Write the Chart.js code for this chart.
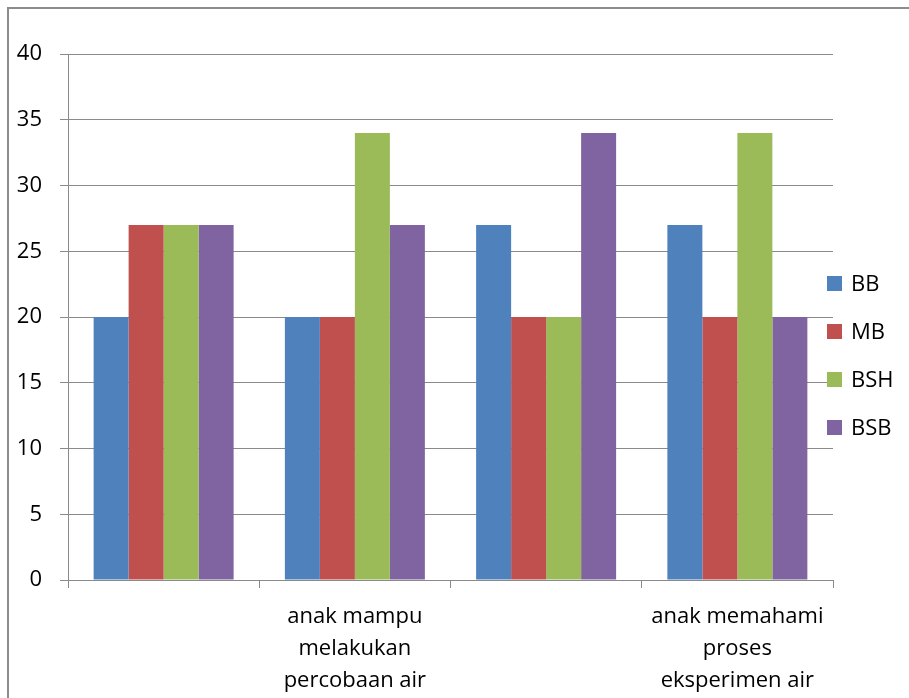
<!DOCTYPE html>
<html>
<head>
<meta charset="utf-8">
<script src="https://cdn.jsdelivr.net/npm/chart.js@4/dist/chart.umd.min.js"></script>
<style>
  html, body { margin: 0; padding: 0; background: #fff; overflow: hidden; }
  #frame { position: absolute; left: 7px; top: 7px; width: 1200px; height: 1200px; border: 2px solid #8c8c8c; }
  #wrap { position: absolute; left: 0; top: 0; width: 909px; height: 698px; }
</style>
</head>
<body>
<div id="frame"></div>
<div id="wrap"><canvas id="c" width="909" height="698"></canvas></div>
<script>
const categories = ['', ['anak mampu', 'melakukan', 'percobaan air'], '', ['anak memahami', 'proses', 'eksperimen air']];
const seriesNames = ['BB', 'MB', 'BSH', 'BSB'];
const bbValues = [20, 20, 27, 27];
const mbValues = [27, 20, 20, 20];
const bshValues = [27, 34, 20, 34];
const bsbValues = [27, 27, 34, 20];
const seriesColors = ['#4F81BD', '#C0504D', '#9BBB59', '#8064A2'];

const FONT = "'Open Sans', sans-serif";
const GRID = '#8a8a8a';

// legend sits on the right, slightly overlapping the plot edge
const sideLegend = {
  id: 'sideLegend',
  afterDraw(chart) {
    const ctx = chart.ctx;
    const sets = chart.data.datasets;
    const step = 48;
    const midY = 355.5;
    const top = midY - step * (sets.length - 1) / 2;
    ctx.save();
    ctx.font = '22px ' + FONT;
    ctx.textBaseline = 'middle';
    ctx.textAlign = 'left';
    sets.forEach((ds, i) => {
      const y = top + i * step;
      ctx.fillStyle = ds.backgroundColor;
      ctx.fillRect(827, y - 7.5, 15, 15);
      ctx.fillStyle = '#000';
      ctx.fillText(ds.label, 851, y + 1);
    });
    ctx.restore();
  }
};

const values = [bbValues, mbValues, bshValues, bsbValues];

new Chart(document.getElementById('c'), {
  type: 'bar',
  data: {
    labels: categories,
    datasets: seriesNames.map((name, i) => ({
      label: name,
      data: values[i],
      backgroundColor: seriesColors[i],
      borderWidth: 0,
      categoryPercentage: 0.732,
      barPercentage: 1
    }))
  },
  options: {
    responsive: false,
    animation: false,
    layout: { padding: { left: 0, right: 76, top: 54, bottom: 0 } },
    plugins: { legend: { display: false }, tooltip: { enabled: false } },
    scales: {
      y: {
        min: 0,
        max: 40,
        afterFit(scale) { scale.width = 68; },
        ticks: { stepSize: 5, color: '#000', font: { family: FONT, size: 22 }, padding: 18 },
        grid: { color: GRID, lineWidth: 1, tickLength: 8 },
        border: { color: GRID, width: 1 }
      },
      x: {
        afterFit(scale) { scale.height = 118; },
        ticks: { color: '#000', font: { family: FONT, size: 22, lineHeight: 1.45 }, padding: 13, maxRotation: 0, autoSkip: false },
        grid: { color: GRID, lineWidth: 1, offset: true, drawOnChartArea: false, tickLength: 8 },
        border: { color: GRID, width: 1 }
      }
    }
  },
  plugins: [sideLegend]
});
</script>
</body>
</html>
